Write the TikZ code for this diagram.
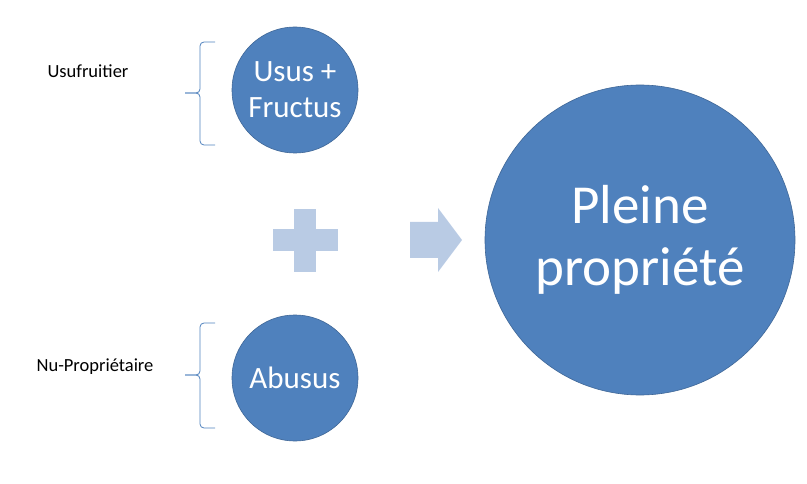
\documentclass[tikz,border=0pt]{standalone}
\usepackage{fontspec}
\setmainfont{Carlito}
\definecolor{cblue}{HTML}{4F81BD}
\definecolor{lblue}{HTML}{B9CBE4}
\begin{document}
\begin{tikzpicture}[x=1pt,y=-1pt,
  circ/.style={circle,fill=cblue,draw=cblue!80!black,line width=0.6pt,text=white,align=center,inner sep=0pt},
  lbl/.style={font=\fontsize{18.5}{21}\selectfont},
  brace/.style={draw=cblue,line width=0.8pt,rounded corners=4pt}]
\useasboundingbox (0,0) rectangle (807,484);
\node[circ,minimum size=126pt,font=\fontsize{31}{36}\selectfont] (uf) at (295,90) {Usus +\\Fructus};
\node[circ,minimum size=126pt,font=\fontsize{31}{36}\selectfont] (ab) at (295,378) {Abusus};
\node[circ,minimum size=310pt,font=\fontsize{55}{62}\selectfont] (pp) at (640,240) {Pleine\\propriété};
\fill[lblue] (294,209) rectangle (316,272);
\fill[lblue] (273,229) rectangle (338,251);
\fill[lblue] (410,222) -- (438,222) -- (438,208) -- (462,240) -- (438,272) -- (438,258) -- (410,258) -- cycle;
\node[lbl] (us) at (88,71) {Usufruitier};
\node[lbl] (np) at (95,367) {Nu-Propriétaire};
\draw[brace] (215,42) -- (200,42) -- (200,93) -- (185,93);
\draw[brace] (185,93) -- (200,93) -- (200,145) -- (215,145);
\draw[brace] (215,323) -- (200,323) -- (200,375) -- (185,375);
\draw[brace] (185,375) -- (200,375) -- (200,428) -- (215,428);
\end{tikzpicture}
\end{document}
